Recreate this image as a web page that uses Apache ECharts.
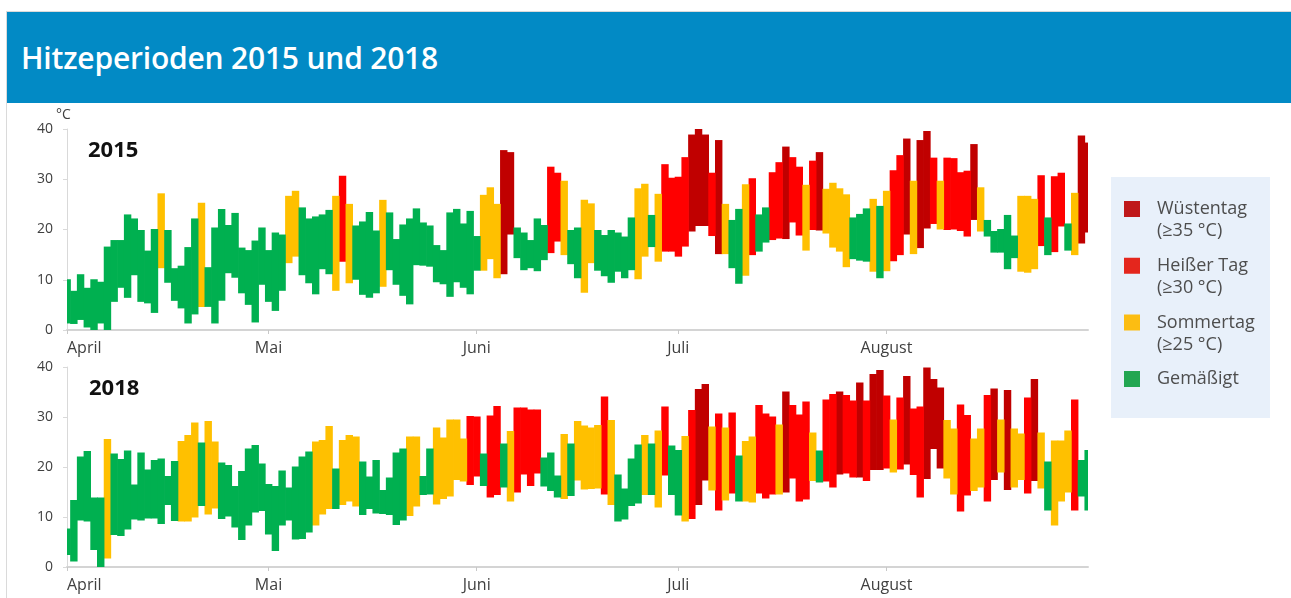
<!DOCTYPE html>
<html>
<head>
<meta charset="utf-8">
<script src="https://cdn.jsdelivr.net/npm/echarts@6/dist/echarts.min.js"></script>
<style>
  body { margin: 0; background: #fff; }
  #page { position: relative; width: 1291px; height: 598px; overflow: hidden; background: #fff; }
  #frame { position: absolute; left: 6px; top: 11px; width: 1285px; height: 587px;
           border-left: 1px solid #DADADA; border-top: 1px solid #DADADA; box-sizing: border-box; }
  #head { position: absolute; left: 7px; top: 12px; width: 1284px; height: 91px; background: #028AC5; }
  #head span { position: absolute; left: 14px; top: 26px; line-height: 40px; color: #fff;
               font-family: "Open Sans", sans-serif; font-weight: 600; font-size: 30px; letter-spacing: -0.2px; white-space: nowrap; }
  #chart { position: absolute; left: 0; top: 0; width: 1291px; height: 598px; }
</style>
</head>
<body>
<div id="page">
  <div id="chart"></div>
  <div id="frame"></div>
  <div id="head"><span>Hitzeperioden 2015 und 2018</span></div>
</div>
<script>
  // Tage 1. April bis 31. August (Index 0..152)
  const monthNames = ['April', 'Mai', 'Juni', 'Juli', 'August'];
  const monthStarts = [0, 30, 61, 91, 122];
  const lastDay = 152;

  // Tageshöchst- und Tiefstwerte in °C
  const max2015 = [
    10.1, 7.8, 11.1, 8.4, 10.1, 9.6, 16.6, 17.9, 17.9, 23.0,
    22.2, 19.9, 15.8, 20.1, 27.2, 19.9, 12.3, 12.8, 16.5, 22.2,
    25.3, 12.5, 20.4, 24.1, 20.9, 23.3, 16.4, 15.9, 17.8, 20.4,
    15.9, 19.4, 19.0, 26.7, 27.7, 24.4, 22.2, 22.6, 23.0, 23.9,
    26.7, 30.7, 25.1, 20.8, 21.6, 23.5, 19.8, 25.9, 23.4, 18.1,
    21.0, 22.2, 24.2, 21.4, 20.8, 16.9, 15.9, 23.4, 24.1, 21.2,
    23.7, 18.7, 26.9, 28.4, 25.1, 35.8, 35.4, 20.4, 19.4, 17.9,
    22.2, 20.9, 32.5, 31.3, 29.7, 19.9, 20.4, 25.9, 25.2, 19.9,
    18.9, 19.9, 19.4, 18.6, 22.4, 28.2, 29.1, 22.9, 27.1, 33.0,
    30.3, 30.5, 34.4, 38.9, 40.0, 38.9, 31.3, 37.8, 25.1, 21.9,
    24.1, 29.0, 30.2, 23.0, 24.4, 31.4, 33.4, 36.5, 34.4, 32.5,
    28.9, 33.7, 35.4, 28.1, 29.3, 28.2, 27.0, 22.4, 23.1, 24.2,
    26.1, 24.7, 27.7, 31.8, 34.8, 38.1, 29.7, 37.8, 39.6, 34.3,
    29.7, 34.3, 34.2, 31.4, 31.7, 37.0, 28.4, 21.9, 19.7, 20.1,
    22.9, 18.8, 26.7, 26.7, 26.1, 30.8, 22.4, 30.6, 31.3, 21.2,
    27.3, 38.7, 37.3
  ];
  const min2015 = [
    1.3, 1.2, 2.0, 0.5, 0.0, 1.3, 0.0, 5.6, 8.4, 6.4,
    10.9, 5.6, 5.3, 3.4, 12.3, 9.4, 5.8, 4.3, 1.3, 3.1,
    4.6, 4.6, 1.3, 5.8, 11.3, 10.4, 7.3, 5.0, 1.5, 9.0,
    5.6, 3.8, 7.8, 13.3, 14.6, 10.9, 9.3, 7.1, 12.1, 11.1,
    7.8, 13.6, 9.3, 10.0, 7.0, 6.4, 7.3, 8.6, 11.9, 9.0,
    6.8, 5.1, 12.9, 12.8, 12.6, 9.5, 9.1, 6.6, 9.5, 8.4,
    7.1, 11.8, 11.8, 14.1, 10.3, 11.1, 19.0, 14.3, 11.9, 12.3,
    11.7, 13.9, 15.3, 17.6, 14.9, 13.1, 10.3, 7.4, 13.3, 11.8,
    10.7, 9.4, 11.6, 10.3, 11.9, 10.1, 14.6, 16.5, 13.6, 15.6,
    15.6, 14.6, 16.6, 19.6, 20.7, 20.7, 18.7, 15.1, 15.1, 12.3,
    9.2, 10.8, 14.9, 15.6, 17.4, 17.9, 18.2, 18.1, 21.4, 18.8,
    15.8, 19.9, 19.8, 19.2, 16.4, 15.6, 12.5, 14.1, 13.8, 13.6,
    11.6, 10.3, 11.7, 13.7, 14.9, 19.0, 15.1, 16.3, 20.2, 21.1,
    20.0, 19.9, 20.0, 19.7, 18.6, 21.9, 19.6, 18.6, 15.4, 15.4,
    12.1, 14.3, 11.6, 11.4, 12.1, 16.7, 14.9, 15.5, 20.6, 15.8,
    14.9, 17.2, 19.4
  ];
  const max2018 = [
    7.7, 13.4, 22.1, 23.2, 13.9, 13.9, 25.6, 22.7, 21.6, 23.3,
    16.5, 22.9, 19.5, 21.4, 21.7, 18.2, 21.2, 25.2, 26.4, 28.9,
    24.9, 29.2, 25.1, 20.9, 20.4, 16.2, 19.2, 23.7, 24.4, 20.7,
    16.6, 16.2, 19.3, 15.9, 20.1, 22.1, 23.1, 25.1, 25.4, 28.2,
    19.7, 25.4, 26.4, 26.1, 21.1, 18.1, 21.4, 15.4, 17.9, 22.9,
    23.7, 26.1, 26.1, 18.2, 23.7, 27.9, 25.9, 29.5, 29.5, 25.7,
    30.2, 30.1, 22.7, 30.3, 32.2, 24.7, 27.2, 31.9, 31.9, 31.5,
    31.5, 21.9, 22.9, 18.3, 26.6, 24.7, 29.2, 28.3, 27.9, 28.4,
    34.1, 29.4, 18.5, 15.7, 21.7, 24.5, 26.4, 24.7, 27.3, 32.1,
    24.3, 23.4, 26.2, 31.4, 35.6, 36.6, 28.1, 30.7, 27.9, 30.9,
    22.3, 25.2, 26.1, 32.4, 30.7, 30.1, 28.5, 35.1, 32.4, 30.5,
    33.1, 26.9, 23.3, 33.5, 34.6, 35.1, 34.4, 33.3, 36.9, 33.3,
    38.6, 39.4, 34.3, 29.5, 33.9, 38.2, 31.7, 32.1, 39.9, 37.6,
    35.9, 29.4, 27.7, 32.5, 30.4, 25.7, 27.7, 34.4, 35.7, 29.5,
    35.4, 27.7, 26.7, 33.9, 37.6, 26.9, 21.1, 25.3, 25.3, 27.3,
    33.5, 21.4, 23.4
  ];
  const min2018 = [
    2.4, 1.1, 9.3, 9.1, 3.4, 0.0, 1.7, 6.4, 6.2, 7.5,
    9.5, 9.3, 9.7, 9.7, 8.6, 12.4, 9.2, 9.1, 9.1, 9.9,
    12.2, 10.5, 11.7, 9.6, 10.1, 7.9, 5.4, 8.3, 10.9, 11.2,
    6.5, 3.2, 8.3, 9.3, 5.5, 5.6, 6.9, 8.3, 10.5, 11.6,
    11.6, 12.4, 13.1, 12.1, 10.4, 11.6, 10.7, 10.6, 10.4, 8.4,
    9.3, 10.2, 12.1, 14.4, 14.5, 12.5, 13.6, 14.1, 17.4, 17.1,
    16.4, 18.1, 16.2, 13.9, 14.4, 15.9, 13.1, 14.9, 18.5, 16.2,
    18.7, 16.1, 15.2, 13.9, 13.6, 14.2, 17.3, 15.5, 15.6, 15.7,
    14.5, 12.4, 9.1, 9.5, 12.2, 12.7, 14.4, 14.4, 11.9, 18.3,
    14.4, 10.3, 9.1, 9.6, 12.4, 17.3, 15.3, 11.3, 13.3, 14.7,
    13.1, 13.1, 12.9, 14.7, 13.7, 14.5, 14.5, 14.9, 17.7, 13.1,
    13.5, 17.2, 16.9, 17.1, 15.9, 18.5, 18.7, 17.9, 17.9, 17.2,
    19.4, 19.4, 19.7, 18.9, 19.5, 20.5, 18.4, 13.9, 17.6, 23.6,
    19.7, 17.7, 14.5, 11.1, 14.3, 15.2, 15.9, 13.1, 17.4, 18.9,
    15.4, 15.9, 17.4, 14.7, 17.2, 15.7, 11.3, 8.3, 13.1, 14.9,
    11.3, 14.1, 11.3
  ];

  const years = ['2015', '2018'];
  const maxByYear = [max2015, max2018];
  const minByYear = [min2015, min2018];

  // Klassen nach Tageshöchstwert
  const classNames = ['Wüstentag', 'Heißer Tag', 'Sommertag', 'Gemäßigt'];
  const classNotes = ['(≥35 °C)', '(≥30 °C)', '(≥25 °C)', ''];
  const classLimits = [35, 30, 25, -Infinity];

  const barColors = ['#C00000', '#FF0000', '#FFC000', '#00B050'];
  const keyColors = ['#BF181A', '#E4261D', '#FCBD12', '#22A651'];

  function classOf(v) {
    return classLimits.findIndex(l => v >= l);
  }

  function renderBar(params, api) {
    let lo = api.coord([api.value(0) - 0.5, api.value(1)]);
    let hi = api.coord([api.value(0) + 0.5, api.value(2)]);
    return {
      type: 'rect',
      shape: {x: lo[0] - 0.2, y: hi[1], width: hi[0] - lo[0] + 0.7, height: lo[1] - hi[1]},
      style: {fill: api.visual('color')}
    };
  }

  let series = [];
  years.forEach((y, gi) => {
    classNames.forEach((name, ci) => {
      let data = [];
      maxByYear[gi].forEach((mx, d) => {
        if (classOf(mx) === ci) data.push([d, minByYear[gi][d], mx]);
      });
      series.push({
        name: name,
        type: 'custom',
        xAxisIndex: gi,
        yAxisIndex: gi,
        clip: true,
        itemStyle: {color: barColors[ci]},
        renderItem: renderBar,
        encode: {x: 0, y: [1, 2]},
        data: data
      });
    });
  });

  const font = '"Open Sans", sans-serif';
  const grids = [
    {left: 67, top: 129, width: 1021, height: 201},
    {left: 67, top: 367, width: 1021, height: 200}
  ];

  let chart = echarts.init(document.getElementById('chart'));
  chart.setOption({
    animation: false,
    textStyle: {fontFamily: font},
    title: [
      {text: years[0], left: 88, top: 140, padding: 0,
        textStyle: {fontSize: 22, fontWeight: 'bold', color: '#111', fontFamily: font}},
      {text: years[1], left: 89, top: 378, padding: 0,
        textStyle: {fontSize: 22, fontWeight: 'bold', color: '#111', fontFamily: font}}
    ],
    graphic: [{
      type: 'rect', left: 1111, top: 177, z: -1,
      shape: {width: 159, height: 241},
      style: {fill: '#E8F0FA'}
    }],
    legend: {
      orient: 'vertical',
      left: 1124,
      top: 198,
      padding: 0,
      itemWidth: 28,
      itemHeight: 38,
      itemGap: 12.7,
      icon: 'path://M0,0H16V16H0Z M27.9,37.9L28,38',
      data: classNames.map((n, i) => ({name: n, itemStyle: {color: keyColors[i]}})),
      formatter: n => n + '\n' + classNotes[classNames.indexOf(n)],
      textStyle: {fontSize: 18, lineHeight: 22, color: '#4D4D4D', fontFamily: font}
    },
    grid: grids.map(g => Object.assign({outerBoundsMode: 'none', containLabel: false}, g)),
    xAxis: grids.map((g, i) => ({
      type: 'value',
      gridIndex: i,
      min: 0,
      max: lastDay,
      axisLine: {show: true, lineStyle: {color: '#D4D4D4', width: 2}},
      axisTick: {show: true, customValues: monthStarts, length: 4, lineStyle: {color: '#C8C8C8'}},
      axisLabel: {
        customValues: monthStarts,
        formatter: v => monthNames[monthStarts.indexOf(v)],
        fontSize: 16, color: '#404040', margin: 10, alignMinLabel: 'left'
      },
      splitLine: {show: false}
    })),
    yAxis: grids.map((g, i) => ({
      type: 'value',
      gridIndex: i,
      min: 0,
      max: 40,
      interval: 10,
      name: i === 0 ? '°C' : '',
      nameLocation: 'end',
      nameGap: 5,
      nameTextStyle: {fontSize: 14, color: '#404040', padding: [0, 7, 0, 0]},
      axisLine: {show: true, lineStyle: {color: '#D9D9D9'}},
      axisTick: {show: true, length: 4, lineStyle: {color: '#D9D9D9'}},
      axisLabel: {fontSize: 14, color: '#404040', margin: 14},
      splitLine: {show: false}
    })),
    series: series
  });
</script>
</body>
</html>
